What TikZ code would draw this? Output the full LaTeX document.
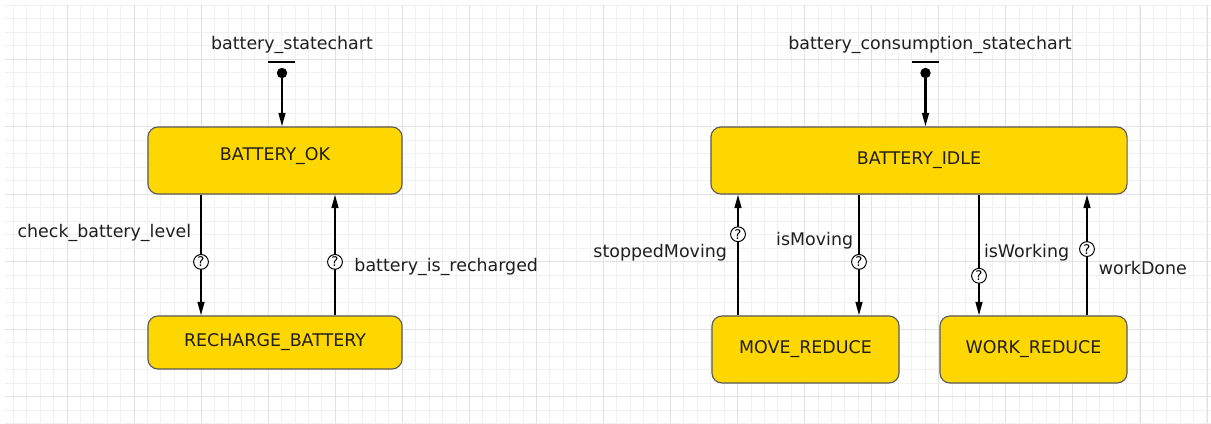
\documentclass[tikz,border=0pt]{standalone}
\usepackage{fontspec}
\setmainfont{DejaVu Sans}
\usetikzlibrary{arrows.meta}
\definecolor{stategold}{HTML}{FFD700}
\definecolor{stateline}{HTML}{5A5A5A}
\definecolor{gridminor}{HTML}{F0F0F0}
\definecolor{gridmajor}{HTML}{E2E2E2}
\definecolor{txt}{HTML}{1E1E1E}
\begin{document}
\begin{tikzpicture}[x=0.025cm,y=-0.025cm,
		state/.style={draw=stateline, fill=stategold, rounded corners=0.25cm, line width=0.8pt,
			minimum width=6.35cm, minimum height=1.675cm, text=txt, font=\fontsize{12.4}{15}\selectfont},
		trans/.style={line width=1.5pt, -{Triangle[length=0.34cm,width=0.17cm]}},
		guard/.style={circle, draw, fill=white, line width=0.7pt, inner sep=0pt, minimum size=0.37cm,
			font=\fontsize{9.5}{9.5}\selectfont},
		lbl/.style={inner sep=0pt, text=txt, font=\fontsize{12.4}{15}\selectfont},
		initdot/.style={circle, fill=black, inner sep=0pt, minimum size=0.26cm},
		initbar/.style={line width=2pt}]
		\useasboundingbox (0,0) rectangle (1211,423);
		% grid
		\foreach \k in {1,...,90} {
			\pgfmathsetmacro\gx{13.41*\k}
			\draw[gridminor, line width=0.6pt] (\gx,5) -- (\gx,423);
		}
		\foreach \k in {0,...,31} {
			\pgfmathsetmacro\gy{5.3+13.495*\k}
			\draw[gridminor, line width=0.6pt] (5,\gy) -- (1211,\gy);
		}
		\foreach \k in {1,...,18} {
			\pgfmathsetmacro\gx{67.06*\k}
			\draw[gridmajor, line width=0.7pt] (\gx,5) -- (\gx,423);
		}
		\foreach \k in {0,...,6} {
			\pgfmathsetmacro\gy{59.3+67.475*\k}
			\draw[gridmajor, line width=0.7pt] (5,\gy) -- (1211,\gy);
		}
		% battery statechart
		\node[lbl] (bsc) at (292,45) {battery\_statechart};
		\draw[initbar] (268,62) -- (295,62);
		\node[initdot] (ini1) at (282,73) {};
		\node[state, text depth=0.3cm] (ok) at (275,160.5) {BATTERY\_OK};
		\node[state, minimum height=1.325cm] (rech) at (275,342.5) {RECHARGE\_BATTERY};
		\draw[trans] (ini1) -- (ok.north -| ini1);
		\draw[trans] (ok.south -| 201,0) -- (rech.north -| 201,0)
			node[guard, pos=.557] (g1) {?}
			node[lbl, pos=.32, anchor=east, xshift=-0.22cm] (l1) {check\_battery\_level};
		\draw[trans] (rech.north -| 335,0) -- (ok.south -| 335,0)
			node[guard, pos=.443] (g2) {?}
			node[lbl, pos=.40, anchor=west, xshift=0.46cm] (l2) {battery\_is\_recharged};
		% battery consumption statechart
		\node[lbl] (bcsc) at (930,45) {battery\_consumption\_statechart};
		\draw[initbar] (912,62) -- (939,62);
		\node[initdot] (ini2) at (925.5,73) {};
		\node[state, minimum width=10.4cm] (idle) at (919,160.5) {BATTERY\_IDLE};
		\node[state, minimum width=4.675cm] (move) at (805.5,349.5) {MOVE\_REDUCE};
		\node[state, minimum width=4.675cm] (work) at (1033.5,349.5) {WORK\_REDUCE};
		\draw[trans] (ini2) -- (idle.north -| ini2);
		\draw[trans] (move.north -| 738,0) -- (idle.south -| 738,0)
			node[guard, pos=.672] (g3) {?}
			node[lbl, pos=.516, anchor=east, xshift=-0.25cm] (l3) {stoppedMoving};
		\draw[trans] (idle.south -| 859,0) -- (move.north -| 859,0)
			node[guard, pos=.557] (g4) {?}
			node[lbl, pos=.385, anchor=east, xshift=-0.12cm] (l4) {isMoving};
		\draw[trans] (idle.south -| 979,0) -- (work.north -| 979,0)
			node[guard, pos=.672] (g5) {?}
			node[lbl, pos=.484, anchor=west, xshift=0.1cm] (l5) {isWorking};
		\draw[trans] (work.north -| 1087,0) -- (idle.south -| 1087,0)
			node[guard, pos=.549] (g6) {?}
			node[lbl, pos=.393, anchor=west, xshift=0.27cm] (l6) {workDone};
	\end{tikzpicture}
\end{document}
